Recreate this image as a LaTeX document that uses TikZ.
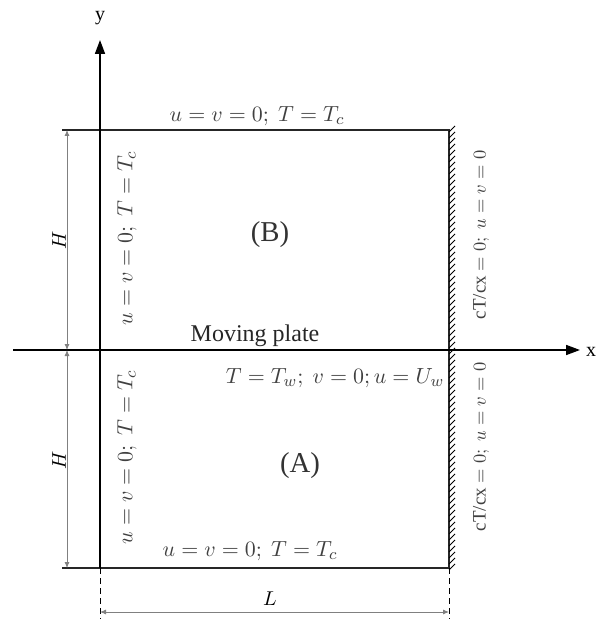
\documentclass[tikz,border=0pt]{standalone}
\usepackage{fontspec}
\setmainfont{Liberation Serif}
\usetikzlibrary{arrows.meta, positioning}

\begin{document}
\begin{tikzpicture}[x=0.5pt, y=-0.5pt,
    axis/.style={thick, -{Triangle[length=7pt, width=5pt]}},
    border/.style={thick, black!85},
    dimline/.style={gray, {Latex[length=3pt, width=2.5pt]}-{Latex[length=3pt, width=2.5pt]}},
    guide/.style={densely dashed, thin},
    bc/.style={font=\fontsize{11}{13}\selectfont, text=black!75},
    wallbc/.style={font=\fontsize{9.5}{11}\selectfont, text=black!75, rotate=90},
    zone/.style={font=\Large, text=black!80}
  ]
  \useasboundingbox (0,0) rectangle (609,619);

  % corners of the two cavities
  \coordinate (origin) at (100,350);
  \coordinate (topleft) at (100,130);
  \coordinate (topright) at (449,130);
  \coordinate (midright) at (449,350);
  \coordinate (botleft) at (100,568);
  \coordinate (botright) at (449,568);
  \coordinate (topext) at (62,130);
  \coordinate (botext) at (62,568);
  \coordinate (xstart) at (13,350);
  \coordinate (xend) at (580,350);
  \coordinate (yend) at (100,40);

  % walls
  \draw[border] (topext) -- (topright) -- (botright);
  \draw[border] (botext) -- (botright);
  \foreach \yy in {132,138,...,574}
    \draw[thin] (449,\yy) -- ++(6,-6);

  % axes
  \draw[axis] (botleft) -- (yend);
  \draw[axis] (xstart) -- (xend);
  \node (ylabel) at (100,18) {y};
  \node (xlabel) at (591,352) {x};

  % dimensions
  \coordinate (hup) at (67,130);
  \coordinate (hmid) at (67,350);
  \coordinate (hlow) at (67,568);
  \draw[dimline] (hup) -- (hmid);
  \draw[dimline] (hmid) -- (hlow);
  \node[rotate=90] (hupper) at (59,240) {$H$};
  \node[rotate=90] (hlower) at (59,460) {$H$};
  \coordinate (lleft) at (100,612);
  \coordinate (lright) at (449,612);
  \draw[guide] (botleft) -- (100,619);
  \draw[guide] (botright) -- (449,619);
  \draw[dimline] (lleft) -- (lright);
  \node (length) at (270,599) {$L$};

  % boundary conditions
  \node[bc] (topbc) at (257,116) {$u = v = 0;\ T = T_c$};
  \node[bc, rotate=90] (leftupbc) at (127,238) {$u = v = 0;\ T = T_c$};
  \node[bc, rotate=90] (leftlowbc) at (127,457) {$u = v = 0;\ T = T_c$};
  \node[wallbc] (rightupbc) at (481,235) {cT/cx $= 0;\ u = v = 0$};
  \node[wallbc] (rightlowbc) at (481,447) {cT/cx $= 0;\ u = v = 0$};
  \node[font=\large, text=black!85] (plate) at (255,336) {Moving plate};
  \node[bc] (platebc) at (335,378) {$T = T_w;\ v = 0; u = U_w$};
  \node[bc] (botbc) at (250,551) {$u = v = 0;\ T = T_c$};

  % regions
  \node[zone] (upper) at (270,235) {(B)};
  \node[zone] (lower) at (300,466) {(A)};
\end{tikzpicture}
\end{document}
